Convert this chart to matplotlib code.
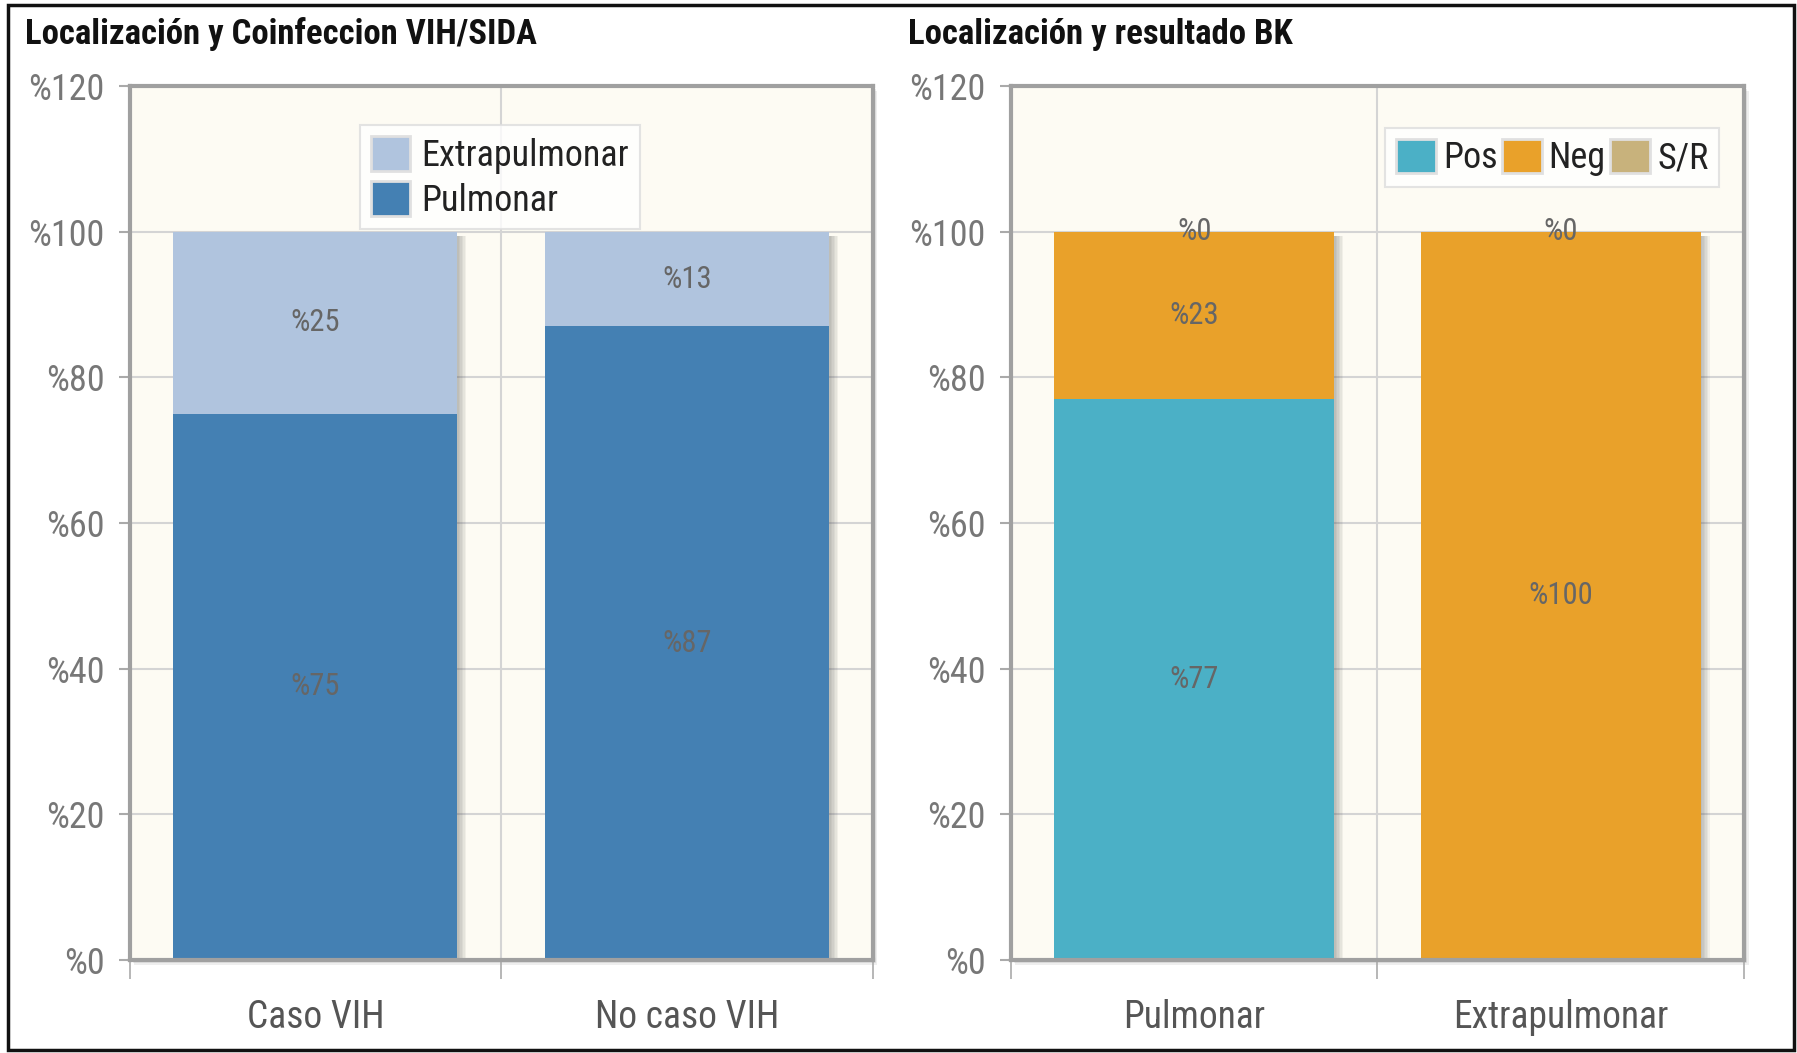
# Localización de TB: coinfección VIH/SIDA y resultado BK
import numpy as np
import matplotlib.pyplot as plt
from matplotlib.patches import Rectangle

# datos del gráfico izquierdo
cat_vih = ['Caso VIH', 'No caso VIH']
pulmonar = [75, 87]
extrapulmonar = [25, 13]

# datos del gráfico derecho
cat_bk = ['Pulmonar', 'Extrapulmonar']
pos = [77, 0]
neg = [23, 100]
sr = [0, 0]

y_ticks = [0, 20, 40, 60, 80, 100, 120]

# colores
C_PUL = '#4480b3'
C_EXT = '#b0c4de'
C_POS = '#4bb0c6'
C_NEG = '#e9a12a'
C_SR = '#c8b27c'
FONDO = '#fdfbf3'

plt.rcParams['font.family'] = ['Roboto Condensed', 'Liberation Sans', 'DejaVu Sans']

fig = plt.figure(figsize=(17.97, 10.53), dpi=100)
fig.patch.set_facecolor('white')

# borde negro exterior
fig.patches.append(Rectangle((8/1797, 3/1053), 1786/1797, 1045/1053, transform=fig.transFigure,
                             fill=False, edgecolor='#111111', linewidth=2.5))

pos1 = [0.0721, 0.0883, 0.4137, 0.830]
pos2 = [0.5625, 0.0883, 0.4081, 0.830]

# sombra del marco de cada gráfico
for p in (pos1, pos2):
    for k in range(1, 4):
        fig.patches.append(Rectangle((p[0] + k*1.5/1797, p[1] - k*1.5/1053), p[2], p[3],
                                     transform=fig.transFigure, facecolor='#777777',
                                     alpha=0.12, linewidth=0, zorder=-1))

ax1 = fig.add_axes(pos1)
ax2 = fig.add_axes(pos2)

ANCHO = 0.764


def sombra(ax, x, h):
    """sombra gris a la derecha de la barra"""
    for k in range(6):
        ax.bar(x + 0.004*(k+1), h - 0.6, width=ANCHO, bottom=0, color='#555555',
               alpha=0.07, zorder=1.5, linewidth=0)


def preparar(ax, categorias):
    ax.set_facecolor(FONDO)
    ax.set_xlim(-0.5, 1.5)
    ax.set_ylim(0, 120)
    ax.set_yticks(y_ticks)
    ax.set_yticklabels(['%' + str(v) for v in y_ticks])
    ax.set_xticks([0, 1])
    ax.set_xticklabels(categorias)
    ax.set_xticks([-0.5, 0.5, 1.5], minor=True)
    ax.tick_params(axis='x', which='major', length=0, pad=28, labelsize=27, labelcolor='#555555')
    ax.tick_params(axis='x', which='minor', length=14, width=1.2, color='#aaaaaa', direction='out')
    ax.tick_params(axis='y', length=8, width=1.5, color='#aaaaaa', pad=10, labelsize=26,
                   labelcolor='#777777')
    ax.grid(True, axis='y', color='#d4d4d4', linewidth=1.5, zorder=0)
    ax.grid(True, axis='x', which='minor', color='#d4d4d4', linewidth=1.5, zorder=0)
    ax.set_axisbelow(True)
    for s in ax.spines.values():
        s.set_color('#a0a0a0')
        s.set_linewidth(3)


# ---------- izquierdo ----------
preparar(ax1, cat_vih)
x = np.arange(len(cat_vih))
for i in x:
    sombra(ax1, i, pulmonar[i] + extrapulmonar[i])
b_pul = ax1.bar(x, pulmonar, width=ANCHO, color=C_PUL, zorder=2, linewidth=0, label='Pulmonar')
b_ext = ax1.bar(x, extrapulmonar, width=ANCHO, bottom=pulmonar, color=C_EXT, zorder=2,
                linewidth=0, label='Extrapulmonar')
for i in x:
    ax1.text(i, pulmonar[i]/2, '%' + str(pulmonar[i]), ha='center', va='center',
             fontsize=22, color='#666666', zorder=3)
    ax1.text(i, pulmonar[i] + extrapulmonar[i]/2, '%' + str(extrapulmonar[i]), ha='center',
             va='center', fontsize=22, color='#666666', zorder=3)

leg1 = ax1.legend([b_ext, b_pul], ['Extrapulmonar', 'Pulmonar'], loc='upper center',
                  bbox_to_anchor=(0.498, 0.955), borderaxespad=0, fontsize=26, frameon=True,
                  fancybox=False, handlelength=1.1, handleheight=1.1, handletextpad=0.3,
                  borderpad=0.3, labelspacing=0.2, labelcolor='#222222')
leg1.get_frame().set_edgecolor('#dddddd')
leg1.get_frame().set_linewidth(1.5)
leg1.set_zorder(5)
for h in leg1.legend_handles:
    h.set_edgecolor('#e0e0e0')
    h.set_linewidth(2)

fig.text(25/1797, 1 - 34/1053, 'Localización y Coinfeccion VIH/SIDA', fontsize=25,
         fontweight='bold', va='center', ha='left', color='#111111')

# ---------- derecho ----------
preparar(ax2, cat_bk)
x = np.arange(len(cat_bk))
for i in x:
    sombra(ax2, i, pos[i] + neg[i] + sr[i])
b_pos = ax2.bar(x, pos, width=ANCHO, color=C_POS, zorder=2, linewidth=0)
b_neg = ax2.bar(x, neg, width=ANCHO, bottom=pos, color=C_NEG, zorder=2, linewidth=0)
base_sr = [pos[i] + neg[i] for i in x]
b_sr = ax2.bar(x, sr, width=ANCHO, bottom=base_sr, color=C_SR, zorder=2, linewidth=0)
for i in x:
    if pos[i] > 0:
        ax2.text(i, pos[i]/2, '%' + str(pos[i]), ha='center', va='center',
                 fontsize=22, color='#666666', zorder=3)
    ax2.text(i, pos[i] + neg[i]/2, '%' + str(neg[i]), ha='center', va='center',
             fontsize=22, color='#666666', zorder=3)
    ax2.text(i, base_sr[i] + sr[i]/2, '%' + str(sr[i]), ha='center', va='center',
             fontsize=22, color='#666666', zorder=3)

leg2 = ax2.legend([b_pos, b_neg, b_sr], ['Pos', 'Neg', 'S/R'], loc='upper right',
                  bbox_to_anchor=(0.966, 0.952), borderaxespad=0, ncol=3, fontsize=26,
                  frameon=True, fancybox=False, handlelength=1.1, handleheight=1.1,
                  handletextpad=0.2, columnspacing=0.12, borderpad=0.3, labelcolor='#222222')
leg2.get_frame().set_edgecolor('#dddddd')
leg2.get_frame().set_linewidth(1.5)
leg2.set_zorder(5)
for h in leg2.legend_handles:
    h.set_edgecolor('#e0e0e0')
    h.set_linewidth(2)

fig.text(908/1797, 1 - 34/1053, 'Localización y resultado BK', fontsize=25,
         fontweight='bold', va='center', ha='left', color='#111111')

plt.savefig('out.png', dpi=100)
